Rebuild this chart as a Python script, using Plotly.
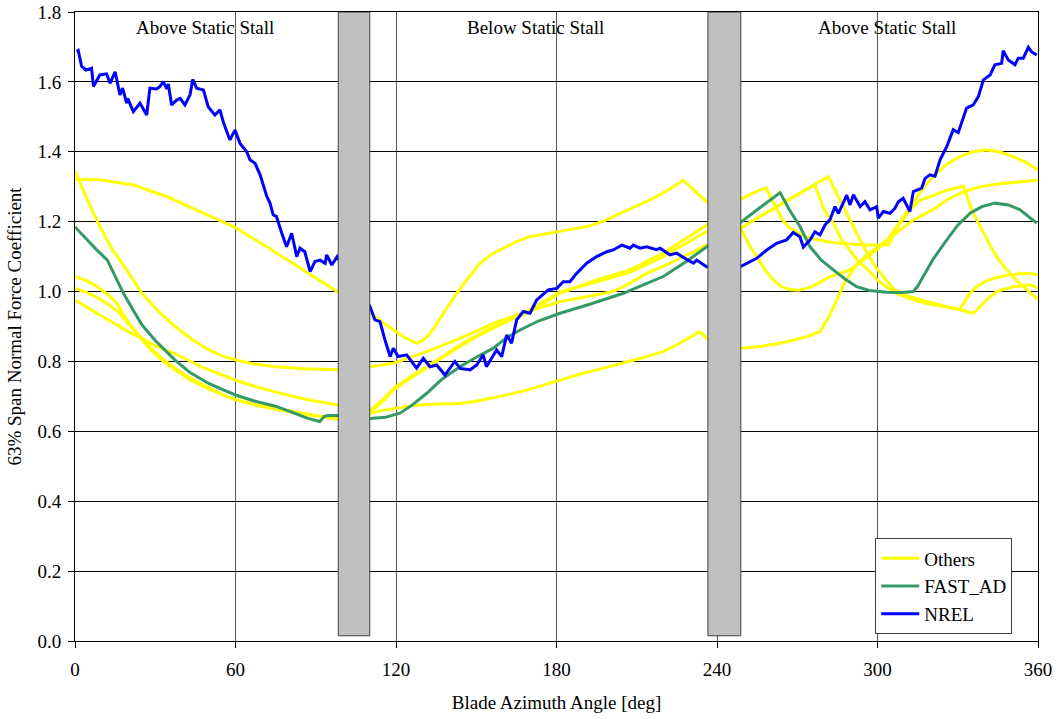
import plotly.graph_objects as go

# ---------------- data ----------------
# Others (five yellow model curves)
oth1_x = [0, 9.3, 21.8, 34.3, 46.7, 59.2, 71.7, 84.1, 97.8, 104, 110.3, 115, 119, 123, 127.7, 130, 132.5, 135, 137.7, 142.7, 146.4, 151.4, 156, 161.4, 165, 170.1, 180.1, 192.5, 198, 203.7, 210, 216.2, 222, 227.4, 231.5, 236.1, 242, 248.6, 251.5, 254.8, 258, 261, 264, 267.3, 270.5, 273.5, 277, 282.2, 289.7, 294.7, 299.7, 303.4, 307.2, 313.4, 318, 322.1, 326, 330.8, 335.5, 340.8, 345.5, 350.8, 355.5, 360]
oth1_y = [1.321, 1.32, 1.305, 1.272, 1.229, 1.186, 1.128, 1.067, 1.0, 0.97, 0.94, 0.912, 0.89, 0.87, 0.852, 0.86, 0.878, 0.905, 0.938, 0.995, 1.033, 1.081, 1.108, 1.128, 1.143, 1.157, 1.171, 1.188, 1.203, 1.224, 1.245, 1.267, 1.292, 1.319, 1.29, 1.257, 1.22, 1.186, 1.14, 1.1, 1.063, 1.033, 1.015, 1.005, 1.004, 1.009, 1.02, 1.043, 1.062, 1.09, 1.119, 1.145, 1.186, 1.257, 1.305, 1.339, 1.365, 1.386, 1.4, 1.405, 1.4, 1.386, 1.37, 1.348]

oth2_x = [0, 4.5, 9.3, 14, 19.3, 25, 31, 37.4, 44, 50, 55, 60, 67, 75, 86, 98, 104, 110.3, 119, 131.5, 143.9, 156.4, 168.9, 181.3, 191, 201.2, 207, 213.7, 220, 226.2, 231, 236.1, 243, 249.2, 256, 263, 270, 276.6, 280, 283.5, 286.5, 289.7, 293, 296, 299.7, 303, 307.2, 312, 318.4, 325, 330.8, 334.6, 337.1, 340, 343.3, 349.5, 355.8, 360]
oth2_y = [1.345, 1.265, 1.186, 1.12, 1.062, 0.995, 0.945, 0.9, 0.862, 0.833, 0.816, 0.804, 0.793, 0.785, 0.779, 0.776, 0.78, 0.785, 0.795, 0.828, 0.866, 0.909, 0.943, 0.971, 0.985, 1.0, 1.022, 1.052, 1.073, 1.095, 1.113, 1.133, 1.16, 1.183, 1.215, 1.246, 1.276, 1.305, 1.235, 1.195, 1.15, 1.119, 1.085, 1.065, 1.035, 1.015, 0.995, 0.98, 0.966, 0.957, 0.949, 0.995, 1.014, 1.028, 1.038, 1.048, 1.052, 1.048]

oth3_x = [0, 4, 8, 12, 15.5, 18, 21.2, 25, 28.7, 33, 37.4, 43, 49.8, 55, 59.8, 67.3, 74, 81, 88, 94.7, 98.4, 104, 110.3, 115, 119, 125, 131.5, 137.5, 143.9, 150, 156.4, 162, 168.9, 175, 181.3, 195, 207.5, 219.9, 228, 236.1, 243, 249.2, 253, 258.3, 260, 262.3, 264.5, 267.3, 271, 275, 279.7, 283.5, 289.7, 296, 304, 308, 312.1, 316, 320.9, 326, 332.1, 335.2, 337.1, 339.6, 342.4, 345, 348.3, 351.5, 354.5, 357, 360]
oth3_y = [1.043, 1.032, 1.016, 0.993, 0.968, 0.935, 0.9, 0.862, 0.83, 0.8, 0.776, 0.748, 0.722, 0.705, 0.692, 0.676, 0.667, 0.657, 0.647, 0.638, 0.634, 0.645, 0.655, 0.685, 0.718, 0.75, 0.781, 0.812, 0.843, 0.87, 0.895, 0.917, 0.938, 0.966, 0.995, 1.033, 1.062, 1.11, 1.15, 1.19, 1.23, 1.265, 1.28, 1.297, 1.27, 1.235, 1.205, 1.182, 1.165, 1.152, 1.145, 1.14, 1.136, 1.133, 1.133, 1.19, 1.234, 1.262, 1.275, 1.29, 1.302, 1.234, 1.205, 1.167, 1.128, 1.095, 1.062, 1.036, 1.014, 0.997, 0.978]

oth4_x = [0, 4, 8, 12, 16.2, 20, 24.9, 28.7, 32.4, 37, 41.1, 46, 52.3, 57, 62.3, 69.8, 78, 87.2, 93, 98.4, 104, 110.3, 115, 119, 125, 131.5, 137.5, 143.9, 150, 156.4, 162, 168.9, 175, 181.3, 195, 207.5, 219.9, 228, 236.1, 243, 249.2, 256, 263, 270, 276.6, 281.6, 284.5, 287.2, 290.5, 293.5, 296.5, 299.7, 302.5, 305.9, 312, 318.4, 325, 330.8, 335.8, 340.8, 344.5, 350.8, 357, 360]
oth4_y = [1.009, 0.998, 0.984, 0.966, 0.942, 0.907, 0.866, 0.836, 0.81, 0.783, 0.762, 0.74, 0.716, 0.698, 0.685, 0.671, 0.659, 0.647, 0.642, 0.637, 0.645, 0.66, 0.69, 0.722, 0.754, 0.785, 0.815, 0.847, 0.874, 0.899, 0.921, 0.943, 0.97, 0.999, 1.028, 1.055, 1.1, 1.135, 1.172, 1.178, 1.183, 1.215, 1.246, 1.276, 1.305, 1.329, 1.285, 1.243, 1.195, 1.148, 1.105, 1.066, 1.04, 1.008, 0.985, 0.971, 0.958, 0.948, 0.938, 0.976, 1.0, 1.014, 1.019, 1.01]

oth5_x = [0, 5, 9.3, 12.5, 21.8, 24.9, 30, 37.4, 48, 59.8, 67, 74.8, 86, 98.4, 104, 110.3, 115, 121.5, 127.7, 135, 143.9, 150, 156.4, 162, 168.9, 175, 181.3, 188, 195, 201, 207.5, 213, 219.9, 226, 233.6, 236.1, 243, 249.2, 256, 263.6, 268, 273.5, 278.5, 282, 285, 288, 292, 296, 300.9, 308.4, 313.4, 320.9, 325.9, 332, 338.3, 345, 352, 360]
oth5_y = [0.976, 0.952, 0.933, 0.919, 0.877, 0.867, 0.845, 0.822, 0.782, 0.747, 0.729, 0.713, 0.692, 0.675, 0.665, 0.652, 0.66, 0.668, 0.675, 0.678, 0.68, 0.686, 0.695, 0.705, 0.718, 0.732, 0.747, 0.762, 0.776, 0.788, 0.8, 0.812, 0.828, 0.852, 0.885, 0.866, 0.85, 0.838, 0.843, 0.852, 0.86, 0.871, 0.885, 0.93, 0.98, 1.03, 1.075, 1.105, 1.132, 1.176, 1.205, 1.235, 1.262, 1.285, 1.3, 1.308, 1.314, 1.319]

# FAST_AD
fast_x = [0, 4.4, 8, 12.1, 15, 18.1, 21.5, 25, 30, 37.4, 43, 50, 55, 60, 67, 75, 81, 87, 91.5, 93.2, 94.5, 98.3, 104, 110.3, 116, 121.5, 126, 131.5, 137, 143.9, 150, 156.4, 161, 166.4, 173, 181.3, 193, 205, 212, 219.9, 228, 236.1, 243, 249.2, 256, 263.6, 267, 271, 274.8, 279, 283.5, 288, 292.2, 297, 303.4, 309, 313.4, 315, 317.1, 321, 325.9, 330, 334.6, 339, 343.9, 349, 353.3, 356.5, 359.5]
fast_y = [1.185, 1.148, 1.12, 1.09, 1.045, 0.995, 0.95, 0.905, 0.86, 0.804, 0.768, 0.737, 0.72, 0.704, 0.687, 0.672, 0.655, 0.637, 0.628, 0.643, 0.645, 0.645, 0.64, 0.637, 0.64, 0.652, 0.675, 0.709, 0.748, 0.785, 0.812, 0.838, 0.866, 0.89, 0.915, 0.938, 0.965, 0.995, 1.018, 1.043, 1.083, 1.128, 1.165, 1.2, 1.24, 1.283, 1.235, 1.186, 1.128, 1.09, 1.062, 1.035, 1.014, 1.003, 0.998, 0.997, 1.0, 1.015, 1.043, 1.095, 1.148, 1.19, 1.224, 1.243, 1.253, 1.248, 1.234, 1.215, 1.196]

# NREL measurement
nrel_x = [0.6, 1.2, 2.5, 4.1, 6.2, 6.9, 9.3, 11.8, 13.1, 15, 16.8, 17.8, 19.3, 19.7, 21.8, 24.3, 26.8, 28, 30.5, 31.8, 33, 34.3, 34.9, 36.1, 38, 39.3, 41.1, 43, 44, 45.5, 48, 49.8, 52.3, 54.2, 55.4, 57.9, 59.8, 61.7, 64.2, 65.4, 67.3, 69.2, 71.7, 72.9, 74.1, 75.3, 77.3, 79.1, 81, 82.9, 84.1, 85.9, 87.9, 89.7, 91.6, 93.5, 94.1, 96, 98, 104,
          110.3, 112.1, 114, 115.9, 117.8, 119, 120.8, 124, 127.7, 130.2, 132.7, 135.2, 138.3, 142, 144, 147.7, 150.2, 152.6, 153.8, 157.6, 159.5, 161.4, 163.2, 165.1, 167.6, 170.1, 172.6, 176.9, 180.1, 182.5, 185, 187.5, 191.3, 195, 198.8, 201.2, 204.4, 207.5, 208.7, 211.2, 213.7, 217.4, 218.7, 222.4, 224.9, 228, 231.2, 232.4, 236.1, 242,
          249.2, 254.8, 258.6, 262.3, 266, 268.5, 271, 272.3, 274.8, 276.6, 278.5, 280.4, 282.2, 284.1, 285.4, 288.5, 289.7, 291, 293.5, 295.3, 297.2, 299.7, 300.3, 302.2, 304.7, 306.5, 307.8, 309.6, 312.1, 313.4, 316.5, 317.8, 319.6, 321.5, 322.7, 323.4, 325.9, 328.3, 330.2, 332.1, 333.3, 335.8, 337.7, 339.6, 342.1, 343.9, 346.4, 347, 348.9, 351.4, 352.6, 354.5, 356.4, 357.6, 359.5]
nrel_y = [1.687, 1.69, 1.644, 1.634, 1.639, 1.587, 1.62, 1.623, 1.596, 1.629, 1.563, 1.582, 1.539, 1.553, 1.515, 1.539, 1.505, 1.582, 1.58, 1.587, 1.601, 1.58, 1.594, 1.534, 1.548, 1.553, 1.534, 1.563, 1.607, 1.582, 1.577, 1.529, 1.505, 1.52, 1.486, 1.434, 1.462, 1.424, 1.4, 1.377, 1.367, 1.334, 1.272, 1.253, 1.219, 1.215, 1.167, 1.128, 1.167, 1.1, 1.124, 1.114, 1.057, 1.086, 1.09, 1.081, 1.105, 1.076, 1.1, 1.03,
          0.957, 0.919, 0.914, 0.861, 0.814, 0.838, 0.814, 0.819, 0.781, 0.809, 0.785, 0.79, 0.761, 0.8, 0.78, 0.776, 0.79, 0.819, 0.785, 0.833, 0.814, 0.876, 0.852, 0.919, 0.943, 0.938, 0.976, 1.005, 1.009, 1.028, 1.028, 1.052, 1.081, 1.1, 1.114, 1.119, 1.133, 1.124, 1.133, 1.124, 1.128, 1.12, 1.124, 1.105, 1.11, 1.095, 1.081, 1.09, 1.071, 1.07,
          1.073, 1.095, 1.119, 1.138, 1.148, 1.169, 1.157, 1.127, 1.148, 1.171, 1.162, 1.191, 1.205, 1.243, 1.224, 1.276, 1.248, 1.277, 1.243, 1.257, 1.234, 1.243, 1.21, 1.229, 1.224, 1.238, 1.257, 1.267, 1.229, 1.286, 1.296, 1.324, 1.334, 1.33, 1.357, 1.377, 1.415, 1.463, 1.455, 1.501, 1.525, 1.534, 1.558, 1.606, 1.62, 1.649, 1.653, 1.689, 1.663, 1.649, 1.668, 1.668, 1.699, 1.686, 1.677]

# stall-transition bands and region labels
band_x0 = [98.4, 236.6]
band_x1 = [110.2, 248.9]
band_bottom = 0.015
band_top = 1.8
region_x = [48.6, 172.3, 303.6]
region_y = 1.755
region_text = ["Above Static Stall", "Below Static Stall", "Above Static Stall"]

x_ticks = [0, 60, 120, 180, 240, 300, 360]
y_ticks = [0.0, 0.2, 0.4, 0.6, 0.8, 1.0, 1.2, 1.4, 1.6, 1.8]

# ---------------- figure ----------------
FONT = "Liberation Serif"
fig = go.Figure()

others = [(oth1_x, oth1_y), (oth2_x, oth2_y), (oth3_x, oth3_y), (oth4_x, oth4_y), (oth5_x, oth5_y)]
for i, (xs, ys) in enumerate(others):
    fig.add_trace(go.Scatter(x=xs, y=ys, mode="lines", name="Others",
                             line=dict(color="#FFFF00", width=3),
                             legendgroup="others", showlegend=(i == 0),
                             hoverinfo="skip"))

fig.add_trace(go.Scatter(x=fast_x, y=fast_y, mode="lines", name="FAST_AD",
                         line=dict(color="#339966", width=3)))
fig.add_trace(go.Scatter(x=nrel_x, y=nrel_y, mode="lines", name="NREL",
                         line=dict(color="#0000FF", width=3)))

for x0, x1 in zip(band_x0, band_x1):
    fig.add_shape(type="rect", xref="x", yref="y", x0=x0, x1=x1,
                  y0=band_bottom, y1=band_top, layer="above",
                  fillcolor="#C0C0C0", line=dict(color="#404040", width=1))

for xv, t in zip(region_x, region_text):
    fig.add_annotation(x=xv, y=region_y, xref="x", yref="y", text=t,
                       showarrow=False, font=dict(family=FONT, size=19, color="black"))

tickfont = dict(family=FONT, size=19, color="black")
fig.update_layout(
    width=1060, height=719,
    margin=dict(l=75, r=22, t=12, b=78),
    paper_bgcolor="white", plot_bgcolor="white",
    font=dict(family=FONT, size=19, color="black"),
    showlegend=True,
    legend=dict(x=0.831, y=0.163, xanchor="left", yanchor="top",
                bgcolor="white", bordercolor="#404040", borderwidth=1,
                font=dict(family=FONT, size=19), tracegroupgap=0,
                itemwidth=38),
    xaxis=dict(range=[0, 360], tickvals=x_ticks, ticks="outside", ticklen=6,
               tickcolor="black", tickfont=tickfont, automargin=False,
               ticklabelstandoff=5, ticklabeloverflow="allow",
               showgrid=True, gridcolor="#555555", gridwidth=1,
               showline=True, linecolor="black", linewidth=1, mirror=True,
               zeroline=False,
               title=dict(text="Blade Azimuth Angle [deg]", standoff=16,
                          font=dict(family=FONT, size=19))),
    yaxis=dict(range=[0, 1.8], tickvals=y_ticks, tickformat=".1f", ticks="outside",
               ticklen=6, tickcolor="black", tickfont=tickfont, automargin=False,
               ticklabelstandoff=3, ticklabeloverflow="allow",
               showgrid=True, gridcolor="black",
               gridwidth=1, showline=True, linecolor="black", linewidth=1,
               mirror=True, zeroline=False,
               title=dict(text="63% Span Normal Force Coefficient", standoff=10,
                          font=dict(family=FONT, size=19))),
)

# remove the default 8px page margin so the figure sits at the window origin
fig.write_html("out.html",
               config={"displayModeBar": False},
               post_script="document.body.style.margin='0';")
